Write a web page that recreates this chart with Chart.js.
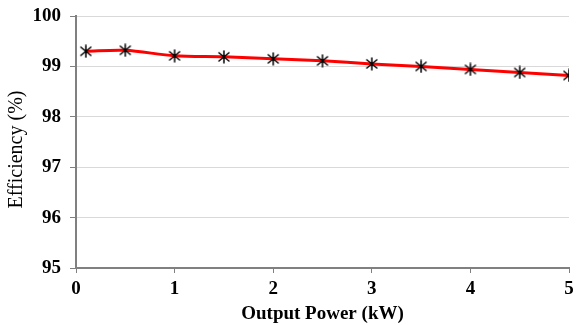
<!DOCTYPE html>
<html>
<head>
<meta charset="utf-8">
<script src="https://cdn.jsdelivr.net/npm/chart.js@4"></script>
<style>
  html, body { margin: 0; padding: 0; background: #fff; }
  #wrap { width: 579px; height: 325px; }
</style>
</head>
<body>
<div id="wrap"><canvas id="effChart" width="579" height="325"></canvas></div>
<script>
// data
var powerKW = [0.1, 0.5, 1, 1.5, 2, 2.5, 3, 3.5, 4, 4.5, 5];
var efficiency = [99.30, 99.32, 99.21, 99.19, 99.15, 99.11, 99.05, 99.00, 98.94, 98.88, 98.82];

var points = powerKW.map(function (p, i) { return { x: p, y: efficiency[i] }; });

// asterisk marker like the Excel one
var mark = document.createElement('canvas');
mark.width = 14; mark.height = 14;
var m = mark.getContext('2d');
m.strokeStyle = '#000';
m.lineWidth = 1.5;
m.beginPath();
m.moveTo(7, 0.5); m.lineTo(7, 13.5);
m.moveTo(1.5, 2.5); m.lineTo(12.5, 11.5);
m.moveTo(12.5, 2.5); m.lineTo(1.5, 11.5);
m.stroke();

var serif = "'Liberation Serif', 'Times New Roman', serif";

var ctx = document.getElementById('effChart').getContext('2d');
var effChart = new Chart(ctx, {
  type: 'scatter',
  data: {
    datasets: [{
      label: 'Efficiency',
      data: points,
      showLine: true,
      borderColor: '#ff0000',
      borderWidth: 3,
      tension: 0.3,
      pointStyle: mark,
      pointRadius: 7,
      pointHoverRadius: 7
    }]
  },
  options: {
    responsive: false,
    animation: false,
    layout: { padding: { left: 0, right: -5, top: 16, bottom: 0 } },
    plugins: {
      legend: { display: false },
      tooltip: { enabled: false }
    },
    scales: {
      x: {
        type: 'linear',
        min: 0,
        max: 5,
        afterFit: function (s) { s.height = 57; s.paddingRight = 0; s.paddingLeft = 0; },
        ticks: {
          stepSize: 1,
          color: '#000',
          padding: 5,
          font: { family: serif, size: 19, weight: 'bold' }
        },
        grid: {
          drawOnChartArea: false,
          drawTicks: true,
          tickLength: 5,
          tickColor: '#808080'
        },
        border: { color: '#808080', width: 2 },
        title: {
          display: true,
          text: 'Output Power (kW)',
          color: '#000',
          padding: { top: 0, bottom: 0 },
          font: { family: serif, size: 19, weight: 'bold' }
        }
      },
      y: {
        min: 95,
        max: 100,
        afterFit: function (s) { s.width = 76; s.paddingTop = 0; s.paddingBottom = 0; },
        ticks: {
          stepSize: 1,
          color: '#000',
          padding: 9,
          font: { family: serif, size: 19, weight: 'bold' }
        },
        grid: {
          color: '#d9d9d9',
          lineWidth: 1,
          tickLength: 6,
          tickColor: '#808080'
        },
        border: { color: '#808080', width: 2 },
        title: {
          display: true,
          text: 'Efficiency (%)   ',
          color: '#000',
          padding: { top: 5, bottom: 2 },
          font: { family: serif, size: 20, weight: 'normal' }
        }
      }
    }
  }
});
</script>
</body>
</html>
